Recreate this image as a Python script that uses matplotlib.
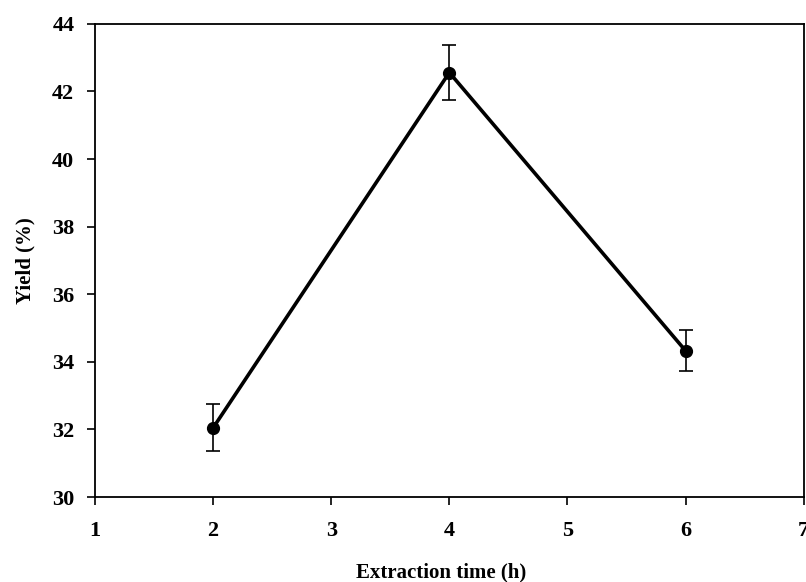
import matplotlib
matplotlib.use('Agg')
import matplotlib.pyplot as plt

# data
time_h = [2, 4, 6]
yield_pct = [32.05, 42.56, 34.33]
yield_err = [0.69, 0.80, 0.61]

plt.rcParams['font.family'] = ['Liberation Serif', 'DejaVu Serif']
plt.rcParams['font.weight'] = 'bold'

fig = plt.figure(figsize=(8.06, 5.82), dpi=100)
ax = fig.add_axes([0.118, 0.146, 0.879, 0.813])

ax.errorbar(time_h, yield_pct, yerr=yield_err, color='black', lw=2.6,
            marker='o', markersize=8.5, ecolor='black', elinewidth=1.2,
            capsize=5, capthick=1.2)

ax.set_xlim(1, 7)
ax.set_ylim(30, 44)
ax.set_xticks(range(1, 8))
ax.set_yticks(range(30, 45, 2))
ax.tick_params(direction='out', length=6, width=1.2, labelsize=16)
ax.tick_params(axis='x', pad=11)
ax.tick_params(axis='y', pad=9)
for s in ax.spines.values():
    s.set_linewidth(1.3)

ax.set_xlabel('Extraction time (h)', fontsize=15, fontweight='bold',
              labelpad=16, x=0.488)
ax.set_ylabel('Yield (%)', fontsize=15, fontweight='bold', labelpad=12)

fig.savefig('out.png', dpi=100)
